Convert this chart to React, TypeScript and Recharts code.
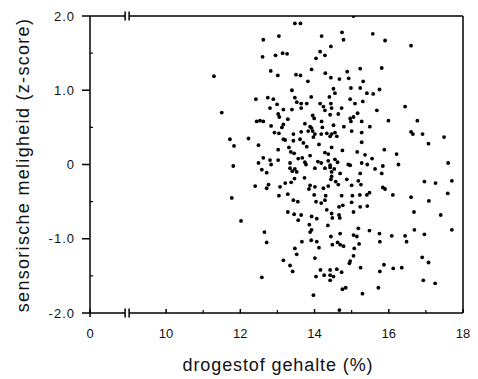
import { ScatterChart, Scatter, XAxis, YAxis, ReferenceLine, ReferenceDot } from "recharts";

// dry matter content (%) and sensory mealiness (z-score), read point by point
const drogestof = [
  13.47, 13.62, 12.62, 13.04, 14.19, 14.74, 14.78, 14.44, 14.15, 14.28, 14.04, 12.6, 12.95, 13.14, 13.26,
  12.82, 13.01, 13.5, 13.62, 13.92, 14.29, 14.88, 15.23, 15.05, 14.44, 14.67, 14.92, 13.82, 15.31, 13.39,
  14.51, 14.55, 14.98, 15.23, 12.42, 12.74, 12.89, 13.47, 13.52, 13.91, 11.5, 12.8, 12.99, 13.16, 13.39,
  13.64, 13.64, 13.79, 14.15, 14.24, 14.28, 14.44, 14.46, 14.4, 14.73, 14.96, 15.09, 15.3, 13.02, 13.05,
  13.28, 13.95, 13.99, 14.42, 14.64, 14.96, 15.05, 15.16, 12.44, 12.53, 12.62, 12.83, 13.16, 13.12, 13.74,
  13.88, 13.92, 14.19, 14.21, 14.51, 14.79, 14.98, 15.27, 12.92, 13.04, 13.43, 13.64, 13.83, 13.95, 14.01,
  14.18, 14.33, 14.46, 14.55, 15.0, 15.27, 13.16, 13.21, 13.43, 13.61, 13.7, 13.79, 13.97, 14.42, 14.6,
  11.72, 12.22, 11.83, 12.49, 13.02, 13.31, 13.36, 14.12, 14.46, 14.28, 14.37, 14.75, 15.15, 15.27, 13.45,
  13.56, 13.67, 13.88, 13.74, 13.77, 12.8, 12.83, 12.62, 13.02, 12.49, 11.81, 13.34, 14.09, 14.18, 14.37,
  14.42, 14.55, 14.62, 14.91, 14.96, 15.27, 12.58, 12.71, 13.34, 13.4, 13.47, 13.52, 14.01, 14.28, 14.42,
  14.46, 14.53, 14.69, 15.23, 13.46, 13.73, 14.46, 14.44, 14.87, 15.18, 12.76, 12.4, 12.71, 13.07, 13.21,
  13.37, 13.88, 13.85, 14.01, 14.24, 14.37, 14.57, 14.64, 15.0, 15.25, 11.77, 13.04, 13.28, 13.99, 14.3,
  14.73, 15.02, 15.22, 13.43, 13.55, 14.04, 14.18, 14.28, 15.0, 15.23, 14.66, 14.76, 13.28, 13.45, 13.64,
  13.56, 14.33, 14.46, 14.48, 14.66, 14.68, 15.05, 13.92, 14.06, 12.02, 13.86, 14.36, 13.92, 13.88, 15.18,
  12.65, 14.44, 14.69, 15.05, 15.14, 12.71, 13.66, 13.91, 14.06, 14.62, 14.69, 14.78, 14.48, 15.2, 14.12,
  13.47, 13.52, 15.07, 15.05, 13.16, 13.34, 13.41, 14.01, 12.58, 14.04, 14.16, 14.26, 14.42, 14.42, 14.51,
  14.42, 14.6, 14.73, 14.75, 14.84, 14.94, 14.96, 15.24, 13.97, 15.29, 14.67, 11.29, 15.57, 15.9, 16.6,
  15.81, 15.75, 15.41, 15.58, 15.68, 16.44, 15.99, 16.77, 16.6, 16.65, 16.91, 17.49, 17.07, 15.49, 15.88,
  16.21, 16.26, 17.6, 16.96, 17.26, 17.7, 17.59, 16.6, 17.08, 16.68, 17.4, 16.69, 16.96, 17.7, 16.44,
  16.48, 16.08, 15.75, 15.48, 15.76, 16.9, 17.07, 16.35, 16.12, 15.87, 15.76, 16.93, 17.25, 15.72, 15.36,
  15.55, 15.42, 15.84, 15.63, 15.81, 15.84, 15.9, 15.48, 15.41, 16.11, 15.42,
];

const meligheid = [
  1.9, 1.9, 1.68, 1.73, 1.73, 1.78, 1.68, 1.59, 1.52, 1.47, 1.43, 1.45, 1.47, 1.5, 1.49,
  1.26, 1.2, 1.21, 1.2, 1.28, 1.23, 1.25, 1.29, 2.0, 1.17, 1.15, 1.16, 1.12, 1.12, 1.0,
  1.02, 0.96, 1.03, 1.03, 0.88, 0.9, 0.88, 0.9, 0.84, 0.91, 0.7, 0.76, 0.81, 0.74, 0.74,
  0.82, 0.76, 0.82, 0.82, 0.78, 0.73, 0.82, 0.76, 0.91, 0.76, 0.88, 0.82, 0.85, 0.68, 0.64,
  0.61, 0.66, 0.62, 0.67, 0.68, 0.62, 0.64, 0.69, 0.58, 0.59, 0.58, 0.52, 0.54, 0.5, 0.55,
  0.51, 0.49, 0.58, 0.5, 0.53, 0.51, 0.58, 0.58, 0.43, 0.42, 0.41, 0.44, 0.45, 0.45, 0.41,
  0.41, 0.42, 0.41, 0.43, 0.45, 0.43, 0.34, 0.33, 0.32, 0.34, 0.29, 0.24, 0.37, 0.38, 0.38,
  0.34, 0.35, 0.25, 0.26, 0.2, 0.23, 0.17, 0.27, 0.23, 0.16, 0.14, 0.19, 0.17, 0.3, 0.15,
  0.08, 0.09, 0.12, 0.03, 0.0, 0.06, 0.0, 0.09, 0.06, 0.02, -0.02, 0.02, 0.04, 0.02, 0.05,
  -0.01, 0.07, 0.03, 0.0, -0.01, 0.02, -0.07, -0.11, -0.05, -0.09, -0.06, -0.1, -0.05, -0.05, -0.04,
  -0.1, -0.06, -0.12, -0.12, -0.19, -0.18, -0.16, -0.2, -0.2, -0.22, -0.27, -0.29, -0.32, -0.3, -0.25,
  -0.24, -0.28, -0.33, -0.3, -0.32, -0.29, -0.23, -0.27, -0.28, -0.27, -0.45, -0.42, -0.4, -0.41, -0.42,
  -0.42, -0.42, -0.41, -0.48, -0.5, -0.5, -0.52, -0.48, -0.51, -0.57, -0.57, -0.55, -0.64, -0.67, -0.68,
  -0.75, -0.61, -0.66, -0.72, -0.68, -0.72, -0.64, -0.7, -0.73, -0.76, -0.81, -0.82, -0.88, -0.91, -0.86,
  -0.91, -0.97, -0.93, -0.95, -0.97, -1.05, -1.04, -1.02, -1.04, -1.05, -1.08, -1.1, -1.08, -1.07, -1.12,
  -1.13, -1.21, -1.13, -1.23, -1.29, -1.36, -1.44, -1.26, -1.52, -1.51, -1.42, -1.49, -1.42, -1.49, -1.51,
  -1.56, -1.41, -1.45, -1.68, -1.66, -1.33, -1.3, -1.39, -1.76, -1.74, -1.96, 1.19, 1.76, 1.67, 1.6,
  1.3, 1.01, 0.96, 0.95, 0.73, 0.78, 0.59, 0.59, 0.44, 0.41, 0.41, 0.37, 0.28, 0.51, 0.2,
  0.14, 0.0, 0.02, -0.23, -0.25, -0.22, -0.39, -0.44, -0.49, -0.64, -0.68, -0.88, -0.94, -0.88, -0.96,
  -1.04, -0.96, -0.93, -0.89, -1.04, -1.25, -1.32, -1.39, -1.4, -1.35, -1.44, -1.56, -1.6, -1.66, 0.13,
  0.08, 0.0, -0.02, -0.06, -0.12, -0.31, -0.33, -0.38, -0.41, -0.41, -0.56,
];

const points = drogestof.map((x, i) => ({ x, y: meligheid[i] }));

// x axis is broken between 0 and 10: the "0" sits at X_START
const X_START = 7.95;
const BREAK_AT = 8.95;
const X_END = 18;
const Y_MIN = -2;
const Y_MAX = 2;
const xTicks = [X_START, BREAK_AT, 10, 11, 12, 13, 14, 15, 16, 17, 18];
const xLabels: Record<string, string> = { "7.95": "0", "10": "10", "12": "12", "14": "14", "16": "16", "18": "18" };
const yTicks = [-2, -1.5, -1, -0.5, 0, 0.5, 1, 1.5, 2];
const yLabels: Record<string, string> = { "-2": "-2.0", "-1": "-1.0", "0": "0", "1": "1.0", "2": "2.0" };

const FONT = "'Liberation Sans', Arial, sans-serif";

function BreakMark({ x, y }: { x: number; y: number }) {
  return (
    <g>
      <rect x={x - 2} y={y - 2} width={4} height={4} fill="#fff" />
      <line x1={x - 2} x2={x - 2} y1={y - 4.5} y2={y + 4.5} stroke="#000" strokeWidth={1.5} />
      <line x1={x + 2} x2={x + 2} y1={y - 4.5} y2={y + 4.5} stroke="#000" strokeWidth={1.5} />
    </g>
  );
}

function XTick({ x, y, payload }: any) {
  const v = payload.value;
  if (v === BREAK_AT) return <BreakMark x={x} y={y} />;
  const label = xLabels[String(v)];
  if (!label) {
    return <line x1={x} x2={x} y1={y - 3} y2={y} stroke="#000" strokeWidth={1.2} />;
  }
  return (
    <g>
      <line x1={x} x2={x} y1={y - 4} y2={v === X_START ? y + 4 : y} stroke="#000" strokeWidth={1.5} />
      <text x={x} y={y + 20} textAnchor="middle" dominantBaseline="central" fontFamily={FONT} fontSize={13} fill="#111">
        {label}
      </text>
    </g>
  );
}

function YTick({ x, y, payload }: any) {
  const label = yLabels[String(payload.value)];
  if (!label) {
    return <line x1={x} x2={x + 3} y1={y} y2={y} stroke="#000" strokeWidth={1.2} />;
  }
  return (
    <g>
      <line x1={x - 8} x2={x} y1={y} y2={y} stroke="#000" strokeWidth={1.5} />
      <text x={x - 15} y={y} textAnchor="end" dominantBaseline="central" fontFamily={FONT} fontSize={13} letterSpacing={1} fill="#111">
        {label}
      </text>
    </g>
  );
}

const yTitle = () => (
  <text transform="translate(15,157) rotate(-90)" textAnchor="middle" dominantBaseline="central" fontFamily={FONT} fontSize={18} letterSpacing={1.3} fill="#111">
    sensorische meligheid (z-score)
  </text>
);

const xTitle = () => (
  <text x={270} y={357} textAnchor="middle" dominantBaseline="central" fontFamily={FONT} fontSize={18} letterSpacing={0.9} fill="#111">
    drogestof gehalte (%)
  </text>
);

const axisLine = { stroke: "#000", strokeWidth: 1.5 };

export default function App() {
  return (
    <div style={{ width: 470, height: 371 }}>
      <ScatterChart width={470} height={371} margin={{ top: 8, right: 15, bottom: 0, left: 0 }}>
        <XAxis
          xAxisId="b"
          type="number"
          dataKey="x"
          domain={[X_START, X_END]}
          ticks={xTicks}
          interval={0}
          allowDataOverflow
          height={66}
          tickSize={0}
          tickMargin={0}
          tickLine={false}
          axisLine={axisLine}
          tick={<XTick />}
          label={xTitle}
        />
        <YAxis
          yAxisId="l"
          type="number"
          dataKey="y"
          domain={[Y_MIN, Y_MAX]}
          ticks={yTicks}
          interval={0}
          allowDataOverflow
          width={82}
          tickSize={0}
          tickMargin={0}
          tickLine={false}
          axisLine={axisLine}
          tick={<YTick />}
          label={yTitle}
        />
        {/* frame: top and right edges, with the axis break on top */}
        <ReferenceLine xAxisId="b" yAxisId="l" y={Y_MAX} stroke="#000" strokeWidth={1.5} ifOverflow="visible" />
        <ReferenceLine xAxisId="b" yAxisId="l" x={X_END} stroke="#000" strokeWidth={1.5} ifOverflow="visible" />
        <ReferenceDot
          xAxisId="b"
          yAxisId="l"
          x={BREAK_AT}
          y={Y_MAX}
          ifOverflow="visible"
          shape={(p: any) => <BreakMark x={p.cx} y={p.cy} />}
        />
        <Scatter
          data={points}
          xAxisId="b"
          yAxisId="l"
          fill="#000"
          isAnimationActive={false}
          shape={(p: any) => <circle cx={p.cx} cy={p.cy} r={1.9} fill="#000" />}
        />
      </ScatterChart>
    </div>
  );
}
